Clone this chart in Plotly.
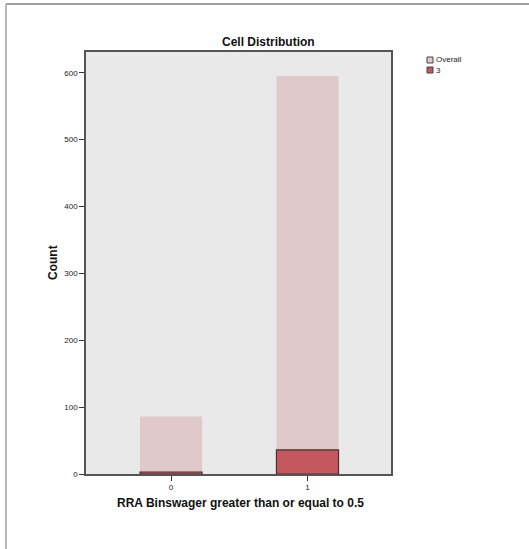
import plotly.graph_objects as go

categories = ["0", "1"]
overall_counts = [86, 595]
group3_counts = [3, 36]
y_ticks = [0, 100, 200, 300, 400, 500, 600]
legend_names = ["Overall", "3"]

W, H = 529, 549
L, R, T, B = 86, 391, 52, 474

OVERALL_COLOR = "#e0c9cb"
G3_COLOR = "#c4585e"
FONT = "Liberation Sans, Arial"

fig = go.Figure()
fig.add_trace(go.Bar(
    x=[0, 1], y=overall_counts, name=legend_names[0], width=0.455,
    marker=dict(color=OVERALL_COLOR, line=dict(color=OVERALL_COLOR, width=0)),
))
fig.add_trace(go.Bar(
    x=[0, 1], y=group3_counts, name=legend_names[1], width=0.455,
    marker=dict(color=G3_COLOR, line=dict(color="#4a3030", width=1.2)),
))

def px_x(p):
    return (p - L) / (R - L)

def px_y(p):
    return (B - p) / (B - T)

shapes = [
    dict(type="line", xref="paper", yref="paper", x0=px_x(6), x1=px_x(530), y0=px_y(4), y1=px_y(4),
         line=dict(color="#808080", width=1.5)),
    dict(type="line", xref="paper", yref="paper", x0=px_x(6), x1=px_x(6), y0=px_y(4), y1=px_y(550),
         line=dict(color="#a0a0a0", width=1.5)),
]
annotations = [
    dict(text="<b>Cell Distribution</b>", xref="paper", yref="paper",
         x=px_x(268), y=px_y(42), xanchor="center", yanchor="middle", showarrow=False,
         font=dict(family=FONT, size=12, color="#111")),
    dict(text="<b>RRA Binswager greater than or equal to 0.5</b>", xref="paper", yref="paper",
         x=px_x(240), y=px_y(503), xanchor="center", yanchor="middle", showarrow=False,
         font=dict(family=FONT, size=12, color="#111")),
    dict(text="<b>Count</b>", xref="paper", yref="paper", textangle=-90,
         x=px_x(53), y=px_y(263), xanchor="center", yanchor="middle", showarrow=False,
         font=dict(family=FONT, size=12, color="#111")),
]

# manual legend (compact, like the reference)
for i, (name, col) in enumerate(zip(legend_names, [OVERALL_COLOR, G3_COLOR])):
    y0 = 57 + i * 10
    shapes.append(dict(type="rect", xref="paper", yref="paper",
                       x0=px_x(427), x1=px_x(433), y0=px_y(y0), y1=px_y(y0 + 6),
                       fillcolor=col, line=dict(color="#444", width=1)))
    annotations.append(dict(text=name, xref="paper", yref="paper",
                            x=px_x(434), y=px_y(y0 + 3), xanchor="left", yanchor="middle",
                            showarrow=False,
                            font=dict(family=FONT, size=8, color="#222")))

fig.update_layout(
    width=W, height=H,
    margin=dict(l=L, r=W - R, t=T, b=H - B, pad=0, autoexpand=False),
    paper_bgcolor="white", plot_bgcolor="#e9e9e9",
    barmode="overlay",
    showlegend=False,
    shapes=shapes,
    annotations=annotations,
    xaxis=dict(
        range=[-0.623, 1.612], tickvals=[0, 1], ticktext=categories,
        ticks="outside", ticklen=5, tickcolor="#333", tickwidth=1,
        showline=True, linecolor="#555", linewidth=1.5, mirror=True,
        showgrid=False, zeroline=False, automargin=False,
        tickfont=dict(family=FONT, size=8, color="#222"),
    ),
    yaxis=dict(
        range=[0, 631], tickvals=y_ticks,
        ticks="outside", ticklen=5, tickcolor="#333", tickwidth=1,
        showline=True, linecolor="#555", linewidth=1.5, mirror=True,
        showgrid=False, zeroline=False, automargin=False,
        tickfont=dict(family=FONT, size=8, color="#222"),
    ),
)

fig.write_html("out.html", config={"displayModeBar": False},
               post_script="document.body.style.margin='0';")
